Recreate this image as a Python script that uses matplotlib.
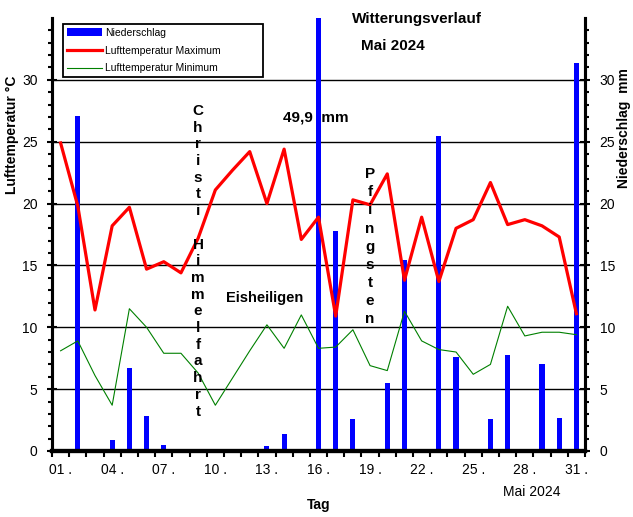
import numpy as np
import matplotlib
matplotlib.use('Agg')
import matplotlib.pyplot as plt

plt.rcParams['font.family'] = ['Liberation Sans', 'DejaVu Sans']

tage = list(range(1, 32))
tick_tage = [1, 4, 7, 10, 13, 16, 19, 22, 25, 28, 31]
tick_labels = [f"{d:02d} ." for d in tick_tage]
niederschlag = [0, 27.1, 0, 0.9, 6.7, 2.8, 0.5, 0, 0, 0, 0, 0.2, 0.4, 1.4, 0.2, 49.9,
                17.8, 2.6, 0, 5.5, 15.4, 0.2, 25.5, 7.6, 0, 2.6, 7.8, 0, 7.0, 2.7, 31.4]
t_max = [24.9, 19.8, 11.4, 18.2, 19.7, 14.7, 15.3, 14.4, 17.2, 21.1, 22.7, 24.2, 20.0, 24.4, 17.1, 18.9,
         10.9, 20.3, 19.9, 22.4, 13.8, 18.9, 13.7, 18.0, 18.7, 21.7, 18.3, 18.7, 18.2, 17.3, 11.1]
t_min = [8.1, 8.9, 6.1, 3.7, 11.5, 10.0, 7.9, 7.9, 6.3, 3.7, 5.9, 8.1, 10.2, 8.3, 11.0, 8.3,
         8.4, 9.8, 6.9, 6.5, 11.3, 8.9, 8.2, 8.0, 6.2, 7.0, 11.7, 9.3, 9.6, 9.6, 9.4]

fig = plt.figure(figsize=(6.33, 5.17), dpi=100)
ax = fig.add_axes([52/633, 1-451/517, 533/633, 433/517])
ax2 = ax.twinx()

# grid
for g in [5, 10, 15, 20, 25, 30]:
    ax.axhline(g, color='black', lw=1.0, zorder=1)

b = ax.bar(tage, niederschlag, width=0.3, color='#0000ff', label='Niederschlag', zorder=2)
l1, = ax.plot(tage, t_max, color='#ff0000', lw=2.3, label='Lufttemperatur Maximum', zorder=3)
l2, = ax.plot(tage, t_min, color='#008000', lw=0.8, label='Lufttemperatur Minimum', zorder=3)

for a in (ax, ax2):
    a.set_xlim(0.5, 31.5)
    a.set_ylim(0, 35)
    a.spines['top'].set_visible(False)
    a.spines['left'].set_linewidth(2.2)
    a.spines['right'].set_linewidth(2.2)
    a.spines['bottom'].set_linewidth(3.0)
    a.set_yticks([0, 5, 10, 15, 20, 25, 30])
    a.set_yticks(np.arange(0, 35, 1), minor=True)

ax.tick_params(axis='y', which='major', direction='inout', length=7, width=1.5, labelsize=10, pad=7)
ax.tick_params(axis='y', which='minor', direction='out', length=3, width=1.5)
ax2.tick_params(axis='y', which='major', direction='inout', length=7, width=1.5, labelsize=10, pad=7)
ax2.tick_params(axis='y', which='minor', direction='out', length=3, width=1.5)

ax.set_xticks(tick_tage)
ax.set_xticklabels(tick_labels)
ax.set_xticks(np.arange(0.5, 32, 1), minor=True)
ax.tick_params(axis='x', which='major', length=0, labelsize=10, pad=9)
ax.tick_params(axis='x', which='minor', direction='out', length=4, width=1.5)

ax.set_ylabel('Lufttemperatur °C', fontsize=10, fontweight='bold')
ax.yaxis.set_label_coords(-0.062, 0.73)
ax2.set_ylabel('Niederschlag  mm', fontsize=10, fontweight='bold')
ax2.yaxis.set_label_coords(1.06, 0.745)
ax.set_xlabel('Tag', fontsize=10, fontweight='bold', labelpad=15)

leg = ax.legend([b, l1, l2], ['Niederschlag', 'Lufttemperatur Maximum', 'Lufttemperatur Minimum'],
                loc='upper left', bbox_to_anchor=(0.0206, 0.857, 0.375, 0.129), mode='expand',
                fontsize=7.5, frameon=True, fancybox=False, framealpha=1, edgecolor='black',
                handlelength=3.4, handletextpad=0.3, labelspacing=0.75, borderpad=0.35, borderaxespad=0)
leg.get_frame().set_linewidth(1.3)
leg.set_zorder(5)

fig.text(417/633, 1-19/517, 'Witterungsverlauf', fontsize=11, fontweight='bold', ha='center', va='center')
fig.text(393/633, 1-46/517, 'Mai 2024', fontsize=11, fontweight='bold', ha='center', va='center')
fig.text(316/633, 1-117/517, '49,9  mm', fontsize=11, fontweight='bold', ha='center', va='center')
fig.text(265/633, 1-298/517, 'Eisheiligen', fontsize=10.5, fontweight='bold', ha='center', va='center')
fig.text(198/633, 1-104/517, '\n'.join('Christi Himmelfahrt'), fontsize=11, fontweight='bold',
         ha='center', va='top', linespacing=1.245)
fig.text(370/633, 1-167/517, '\n'.join('Pfingsten'), fontsize=11, fontweight='bold',
         ha='center', va='top', linespacing=1.38)
fig.text(532/633, 1-492/517, 'Mai 2024', fontsize=10, ha='center', va='center')

plt.savefig('out.png', dpi=100)
